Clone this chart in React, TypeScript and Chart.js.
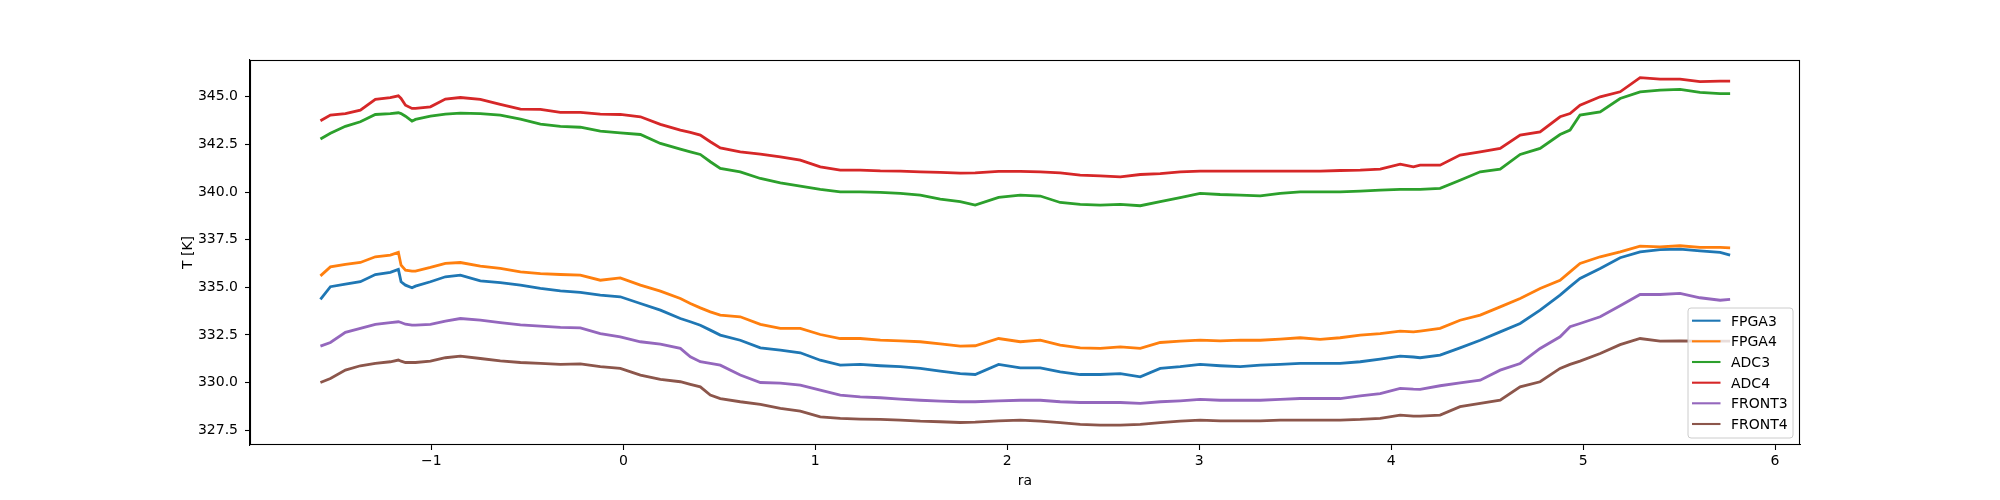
import React, { useEffect, useRef } from "react";
import { Chart, registerables } from "chart.js";

Chart.register(...registerables);

// ---- data ----
const ra = [
  -1.578, -1.526, -1.448, -1.37, -1.292, -1.214, -1.172, -1.158, -1.135, -1.101,
  -1.083, -1.005, -0.927, -0.849, -0.745, -0.641, -0.536, -0.432, -0.328, -0.224,
  -0.12, -0.016, 0.089, 0.193, 0.297, 0.349, 0.401, 0.453, 0.505, 0.609,
  0.714, 0.818, 0.922, 1.026, 1.13, 1.234, 1.339, 1.443, 1.547, 1.651,
  1.755, 1.833, 1.955, 2.068, 2.172, 2.276, 2.38, 2.484, 2.589, 2.693,
  2.797, 2.901, 3.005, 3.109, 3.214, 3.318, 3.422, 3.526, 3.63, 3.734,
  3.839, 3.943, 4.047, 4.116, 4.151, 4.255, 4.359, 4.464, 4.568, 4.672,
  4.776, 4.88, 4.932, 4.984, 5.089, 5.193, 5.297, 5.401, 5.505, 5.609,
  5.714, 5.766,
];

const fpga3 = [
  334.36, 335.03, 335.16, 335.29, 335.67, 335.78, 335.94, 335.29, 335.11, 334.97,
  335.06, 335.29, 335.55, 335.64, 335.34, 335.24, 335.11, 334.94, 334.81, 334.73,
  334.59, 334.5, 334.15, 333.8, 333.36, 333.19, 333.01, 332.75, 332.49, 332.22,
  331.82, 331.7, 331.56, 331.17, 330.91, 330.95, 330.88, 330.83, 330.74, 330.6,
  330.47, 330.42, 330.95, 330.77, 330.77, 330.56, 330.42, 330.42, 330.47, 330.3,
  330.74, 330.83, 330.95, 330.88, 330.83, 330.91, 330.95, 331.0, 331.0, 331.0,
  331.09, 331.23, 331.39, 331.34, 331.3, 331.44, 331.82, 332.22, 332.66, 333.1,
  333.8, 334.59, 335.03, 335.46, 335.99, 336.55, 336.86, 336.98, 337.0, 336.91,
  336.83, 336.69,
];

const fpga4 = [
  335.6, 336.07, 336.2, 336.3, 336.6, 336.69, 336.83, 336.16, 335.9, 335.85,
  335.85, 336.04, 336.25, 336.3, 336.11, 335.99, 335.81, 335.72, 335.67, 335.64,
  335.37, 335.49, 335.11, 334.8, 334.41, 334.15, 333.92, 333.71, 333.54, 333.45,
  333.05, 332.84, 332.84, 332.52, 332.31, 332.31, 332.22, 332.19, 332.14, 332.03,
  331.91, 331.93, 332.31, 332.14, 332.22, 331.96, 331.82, 331.79, 331.87, 331.79,
  332.1, 332.17, 332.22, 332.19, 332.22, 332.22, 332.28, 332.35, 332.26, 332.35,
  332.49, 332.57, 332.7, 332.66, 332.7, 332.84, 333.27, 333.54, 333.97, 334.41,
  334.94, 335.37, 335.81, 336.25, 336.6, 336.86, 337.16, 337.12, 337.18, 337.09,
  337.09, 337.07,
];

const adc3 = [
  342.78, 343.08, 343.45, 343.69, 344.07, 344.12, 344.16, 344.12, 343.98, 343.72,
  343.81, 343.98, 344.09, 344.14, 344.11, 344.04, 343.83, 343.56, 343.45, 343.4,
  343.2, 343.11, 343.02, 342.55, 342.25, 342.11, 341.97, 341.59, 341.24, 341.06,
  340.71, 340.48, 340.31, 340.14, 340.01, 340.01, 339.98, 339.93, 339.84, 339.63,
  339.49, 339.31, 339.72, 339.84, 339.79, 339.45, 339.35, 339.31, 339.35, 339.28,
  339.49, 339.7, 339.93, 339.87, 339.84, 339.8, 339.93, 340.01, 340.01, 340.01,
  340.05, 340.1, 340.14, 340.14, 340.14, 340.19, 340.62, 341.06, 341.2, 341.97,
  342.29, 343.02, 343.25, 344.04, 344.21, 344.91, 345.26, 345.35, 345.39, 345.23,
  345.17, 345.17,
];

const adc4 = [
  343.74, 344.04, 344.12, 344.3, 344.86, 344.95, 345.05, 344.91, 344.56, 344.39,
  344.39, 344.47, 344.88, 344.96, 344.86, 344.6, 344.35, 344.34, 344.18, 344.18,
  344.09, 344.07, 343.95, 343.55, 343.25, 343.13, 342.99, 342.64, 342.32, 342.11,
  341.99, 341.85, 341.67, 341.32, 341.15, 341.15, 341.11, 341.1, 341.06, 341.03,
  340.99, 341.01, 341.08, 341.08, 341.06, 341.01, 340.89, 340.85, 340.8, 340.92,
  340.97, 341.06, 341.1, 341.1, 341.1, 341.1, 341.1, 341.1, 341.1, 341.13,
  341.15, 341.2, 341.46, 341.32, 341.41, 341.41, 341.94, 342.11, 342.29, 342.99,
  343.16, 343.95, 344.12, 344.56, 345.0, 345.26, 346.0, 345.93, 345.93, 345.79,
  345.82, 345.82,
];

const front3 = [
  331.91, 332.1, 332.63, 332.84, 333.05, 333.14, 333.19, 333.15, 333.06, 333.01,
  333.01, 333.05, 333.22, 333.36, 333.27, 333.14, 333.03, 332.96, 332.89, 332.87,
  332.57, 332.4, 332.14, 332.01, 331.79, 331.35, 331.09, 331.0, 330.91, 330.39,
  330.0, 329.97, 329.86, 329.6, 329.34, 329.25, 329.2, 329.13, 329.07, 329.02,
  328.99, 328.99, 329.04, 329.07, 329.07, 328.99, 328.95, 328.95, 328.95, 328.9,
  328.99, 329.04, 329.11, 329.07, 329.07, 329.07, 329.11, 329.16, 329.16, 329.16,
  329.3, 329.42, 329.69, 329.65, 329.64, 329.83, 329.98, 330.12, 330.65, 331.0,
  331.79, 332.4, 332.93, 333.1, 333.45, 334.03, 334.62, 334.62, 334.68, 334.45,
  334.32, 334.36,
];

const front4 = [
  330.0, 330.21, 330.65, 330.88, 331.0, 331.09, 331.18, 331.12, 331.05, 331.05,
  331.05, 331.12, 331.3, 331.39, 331.26, 331.14, 331.05, 331.0, 330.95, 330.98,
  330.83, 330.74, 330.39, 330.16, 330.04, 329.9, 329.77, 329.34, 329.16, 328.99,
  328.85, 328.64, 328.5, 328.2, 328.12, 328.08, 328.06, 328.03, 327.97, 327.94,
  327.9, 327.92, 327.99, 328.03, 327.97, 327.89, 327.8, 327.76, 327.76, 327.8,
  327.89, 327.97, 328.03, 327.99, 327.99, 327.99, 328.03, 328.03, 328.03, 328.03,
  328.06, 328.12, 328.29, 328.24, 328.24, 328.29, 328.73, 328.9, 329.07, 329.77,
  330.04, 330.74, 330.95, 331.12, 331.52, 331.99, 332.31, 332.17, 332.19, 332.17,
  332.17, 332.17,
];

const seriesNames = ["FPGA3", "FPGA4", "ADC3", "ADC4", "FRONT3", "FRONT4"];
const seriesValues = [fpga3, fpga4, adc3, adc4, front3, front4];
const seriesColors = ["#1f77b4", "#ff7f0e", "#2ca02c", "#d62728", "#9467bd", "#8c564b"];

const xTicks = [-1, 0, 1, 2, 3, 4, 5, 6];
const yTicks = [327.5, 330.0, 332.5, 335.0, 337.5, 340.0, 342.5, 345.0];
const xLabel = "ra";
const yLabel = "T [K]";

const FONT = "'DejaVu Sans', 'Liberation Sans', sans-serif";

const fmtMinus = (v: number, digits: number) => {
  const s = Math.abs(v).toFixed(digits);
  return v < 0 ? "\u2212" + s : s;
};

const decorPlugin = {
  id: "mplDecor",
  beforeDraw(chart: any) {
    const { ctx, width, height } = chart;
    ctx.save();
    ctx.fillStyle = "#ffffff";
    ctx.fillRect(0, 0, width, height);
    ctx.restore();
  },
  afterDraw(chart: any) {
    const { ctx, chartArea } = chart;
    const { left, right, top, bottom } = chartArea;
    ctx.save();
    // frame
    ctx.strokeStyle = "#000";
    ctx.lineWidth = 1.1;
    ctx.strokeRect(Math.round(left) + 0.5, Math.round(top) + 0.5, Math.round(right - left) - 1, Math.round(bottom - top) - 1);

    // axis labels
    ctx.fillStyle = "#000";
    ctx.font = `14px ${FONT}`;
    ctx.textAlign = "center";
    ctx.textBaseline = "alphabetic";
    ctx.fillText(xLabel, (left + right) / 2, 485);
    ctx.save();
    ctx.translate(192, (top + bottom) / 2);
    ctx.rotate(-Math.PI / 2);
    ctx.textBaseline = "alphabetic";
    ctx.fillText(yLabel, 0, 0);
    ctx.restore();

    // legend (lower right, inside axes)
    const bx = 1688, by = 308, bw = 105, bh = 130, r = 3;
    ctx.globalAlpha = 0.8;
    ctx.beginPath();
    ctx.moveTo(bx + r, by);
    ctx.lineTo(bx + bw - r, by);
    ctx.quadraticCurveTo(bx + bw, by, bx + bw, by + r);
    ctx.lineTo(bx + bw, by + bh - r);
    ctx.quadraticCurveTo(bx + bw, by + bh, bx + bw - r, by + bh);
    ctx.lineTo(bx + r, by + bh);
    ctx.quadraticCurveTo(bx, by + bh, bx, by + bh - r);
    ctx.lineTo(bx, by + r);
    ctx.quadraticCurveTo(bx, by, bx + r, by);
    ctx.closePath();
    ctx.fillStyle = "#ffffff";
    ctx.fill();
    ctx.globalAlpha = 1;
    ctx.strokeStyle = "#cccccc";
    ctx.lineWidth = 1;
    ctx.stroke();

    const rowY = [320.7, 341.3, 362.0, 382.7, 403.3, 424.0];
    ctx.textAlign = "left";
    ctx.font = `14px ${FONT}`;
    seriesNames.forEach((name, i) => {
      const y = rowY[i];
      ctx.strokeStyle = seriesColors[i];
      ctx.lineWidth = 2.1;
      ctx.beginPath();
      ctx.moveTo(1692, y);
      ctx.lineTo(1720.5, y);
      ctx.stroke();
      ctx.fillStyle = "#000";
      ctx.fillText(name, 1731, y + 5);
    });
    ctx.restore();
  },
};

export default function App() {
  const canvasRef = useRef<HTMLCanvasElement | null>(null);

  useEffect(() => {
    if (!canvasRef.current) return;
    const datasets = seriesNames.map((name, i) => ({
      label: name,
      data: ra.map((x, j) => ({ x, y: seriesValues[i][j] })),
      borderColor: seriesColors[i],
      backgroundColor: seriesColors[i],
      borderWidth: 2.8,
      pointRadius: 0,
      tension: 0,
      fill: false,
      order: seriesNames.length - i,
    }));

    const chart = new Chart(canvasRef.current, {
      type: "line",
      data: { datasets },
      plugins: [decorPlugin],
      options: {
        animation: false,
        responsive: false,
        maintainAspectRatio: false,
        devicePixelRatio: 1,
        layout: { padding: { left: 0, top: 60, right: 200, bottom: 0 } },
        plugins: {
          legend: { display: false },
          tooltip: { enabled: false },
          title: { display: false },
        },
        scales: {
          x: {
            type: "linear",
            min: -1.945,
            max: 6.13,
            afterFit: (s: any) => {
              s.height = 55;
            },
            afterBuildTicks: (s: any) => {
              s.ticks = xTicks.map((v) => ({ value: v }));
            },
            ticks: {
              autoSkip: false,
              maxRotation: 0,
              padding: 3,
              color: "#000",
              font: { family: FONT, size: 14 },
              callback: (v: any) => fmtMinus(Number(v), 0),
            },
            grid: {
              display: true,
              drawOnChartArea: false,
              drawTicks: true,
              tickLength: 5,
              tickColor: "#000",
              tickWidth: 1.1,
            },
            border: { display: true, color: "#000", width: 1.1 },
          },
          y: {
            type: "linear",
            min: 326.72,
            max: 346.93,
            afterFit: (s: any) => {
              s.width = 250;
            },
            afterBuildTicks: (s: any) => {
              s.ticks = yTicks.map((v) => ({ value: v }));
            },
            ticks: {
              autoSkip: false,
              padding: 7,
              color: "#000",
              font: { family: FONT, size: 14 },
              callback: (v: any) => fmtMinus(Number(v), 1),
            },
            grid: {
              display: true,
              drawOnChartArea: false,
              drawTicks: true,
              tickLength: 5,
              tickColor: "#000",
              tickWidth: 1.1,
            },
            border: { display: true, color: "#000", width: 1.1 },
          },
        },
      },
    } as any);

    return () => {
      chart.destroy();
    };
  }, []);

  return (
    <div style={{ position: "absolute", left: 0, top: 0, width: 2000, height: 500, background: "#fff" }}>
      <canvas ref={canvasRef} width={2000} height={500} style={{ width: 2000, height: 500, display: "block" }} />
    </div>
  );
}
